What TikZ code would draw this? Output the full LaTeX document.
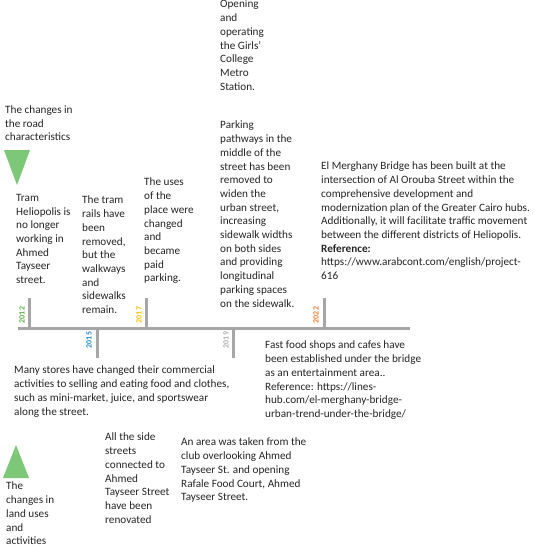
\documentclass[tikz,border=0pt]{standalone}
\usepackage{fontspec}
\setmainfont{Carlito}
\definecolor{trigreen}{RGB}{125,199,120}
\definecolor{axisgray}{RGB}{166,166,166}
\definecolor{yr2012}{RGB}{92,178,72}
\definecolor{yr2015}{RGB}{32,142,214}
\definecolor{yr2017}{RGB}{255,192,0}
\definecolor{yr2019}{RGB}{175,175,175}
\definecolor{yr2022}{RGB}{237,125,49}

\begin{document}
\begin{tikzpicture}[
  x=1pt,y=-1pt,
  note/.style={anchor=north west,inner sep=0pt,align=left,text=black!85,
    font=\fontsize{11.2}{13.7}\selectfont,execute at begin node=\strut},
  yearlbl/.style={rotate=90,inner sep=0pt,font=\fontsize{8}{9}\selectfont\bfseries},
  axis/.style={draw=axisgray,line width=3pt}
]
\path[use as bounding box,fill=white] (0,0) rectangle (534,550);

% timeline
\coordinate (start) at (18,328);
\coordinate (end) at (410,328);
\coordinate (t2012) at (29,328);
\coordinate (t2015) at (97,328);
\coordinate (t2017) at (146,328);
\coordinate (t2019) at (233,328);
\coordinate (t2022) at (324,328);
\coordinate (e2012) at (29,298);
\coordinate (e2015) at (97,358);
\coordinate (e2017) at (146,298);
\coordinate (e2019) at (233,358);
\coordinate (e2022) at (324,298);
\draw[axis] (start) -- (end);
\draw[axis] (t2012) -- (e2012);
\draw[axis] (t2015) -- (e2015);
\draw[axis] (t2017) -- (e2017);
\draw[axis] (t2019) -- (e2019);
\draw[axis] (t2022) -- (e2022);
\node[yearlbl,text=yr2012] (l2012) at (22,315) {2012};
\node[yearlbl,text=yr2015] (l2015) at (89,340) {2015};
\node[yearlbl,text=yr2017] (l2017) at (139,315) {2017};
\node[yearlbl,text=yr2019] (l2019) at (226,340) {2019};
\node[yearlbl,text=yr2022] (l2022) at (316,315) {2022};

% markers
\fill[trigreen] (4,150) -- (30,150) -- (17,185) -- cycle;
\fill[trigreen] (3,478) -- (29,478) -- (16,445) -- cycle;

% road characteristics (above)
\node[note] (road) at (5,105.5) {The changes in\\the road\\characteristics};
\node[note] (tram) at (16,194) {Tram\\Heliopolis is\\no longer\\working in\\Ahmed\\Tayseer\\street.};
\node[note] (rails) at (82,196) {The tram\\rails have\\been\\removed,\\but the\\walkways\\and\\sidewalks\\remain.};
\node[note] (uses) at (144,178) {The uses\\of the\\place were\\changed\\and\\became\\paid\\parking.};
\node[note] (metro) at (220,0) {Opening\\and\\operating\\the Girls'\\College\\Metro\\Station.};
\node[note] (parking) at (220,121) {Parking\\pathways in the\\middle of the\\street has been\\removed to\\widen the\\urban street,\\increasing\\sidewalk widths\\on both sides\\and providing\\longitudinal\\parking spaces\\on the sidewalk.};
\node[note] (bridge) at (321,162) {El Merghany Bridge has been built at the\\intersection of Al Orouba Street within the\\comprehensive development and\\modernization plan of the Greater Cairo hubs.\\Additionally, it will facilitate traffic movement\\between the different districts of Heliopolis.\\\textbf{Reference:}\\https://www.arabcont.com/english/project-\\616};

% land uses and activities (below)
\node[note] (stores) at (14,366) {Many stores have changed their commercial\\activities to selling and eating food and clothes,\\such as mini-market, juice, and sportswear\\along the street.};
\node[note] (food) at (265,341) {Fast food shops and cafes have\\been established under the bridge\\as an entertainment area..\\Reference: https://lines-\\hub.com/el-merghany-bridge-\\urban-trend-under-the-bridge/};
\node[note] (land) at (6,482) {The\\changes in\\land uses\\and\\activities};
\node[note] (side) at (105,433) {All the side\\streets\\connected to\\Ahmed\\Tayseer Street\\have been\\renovated};
\node[note] (area) at (181,438) {An area was taken from the\\club overlooking Ahmed\\Tayseer St. and opening\\Rafale Food Court, Ahmed\\Tayseer Street.};
\end{tikzpicture}
\end{document}
